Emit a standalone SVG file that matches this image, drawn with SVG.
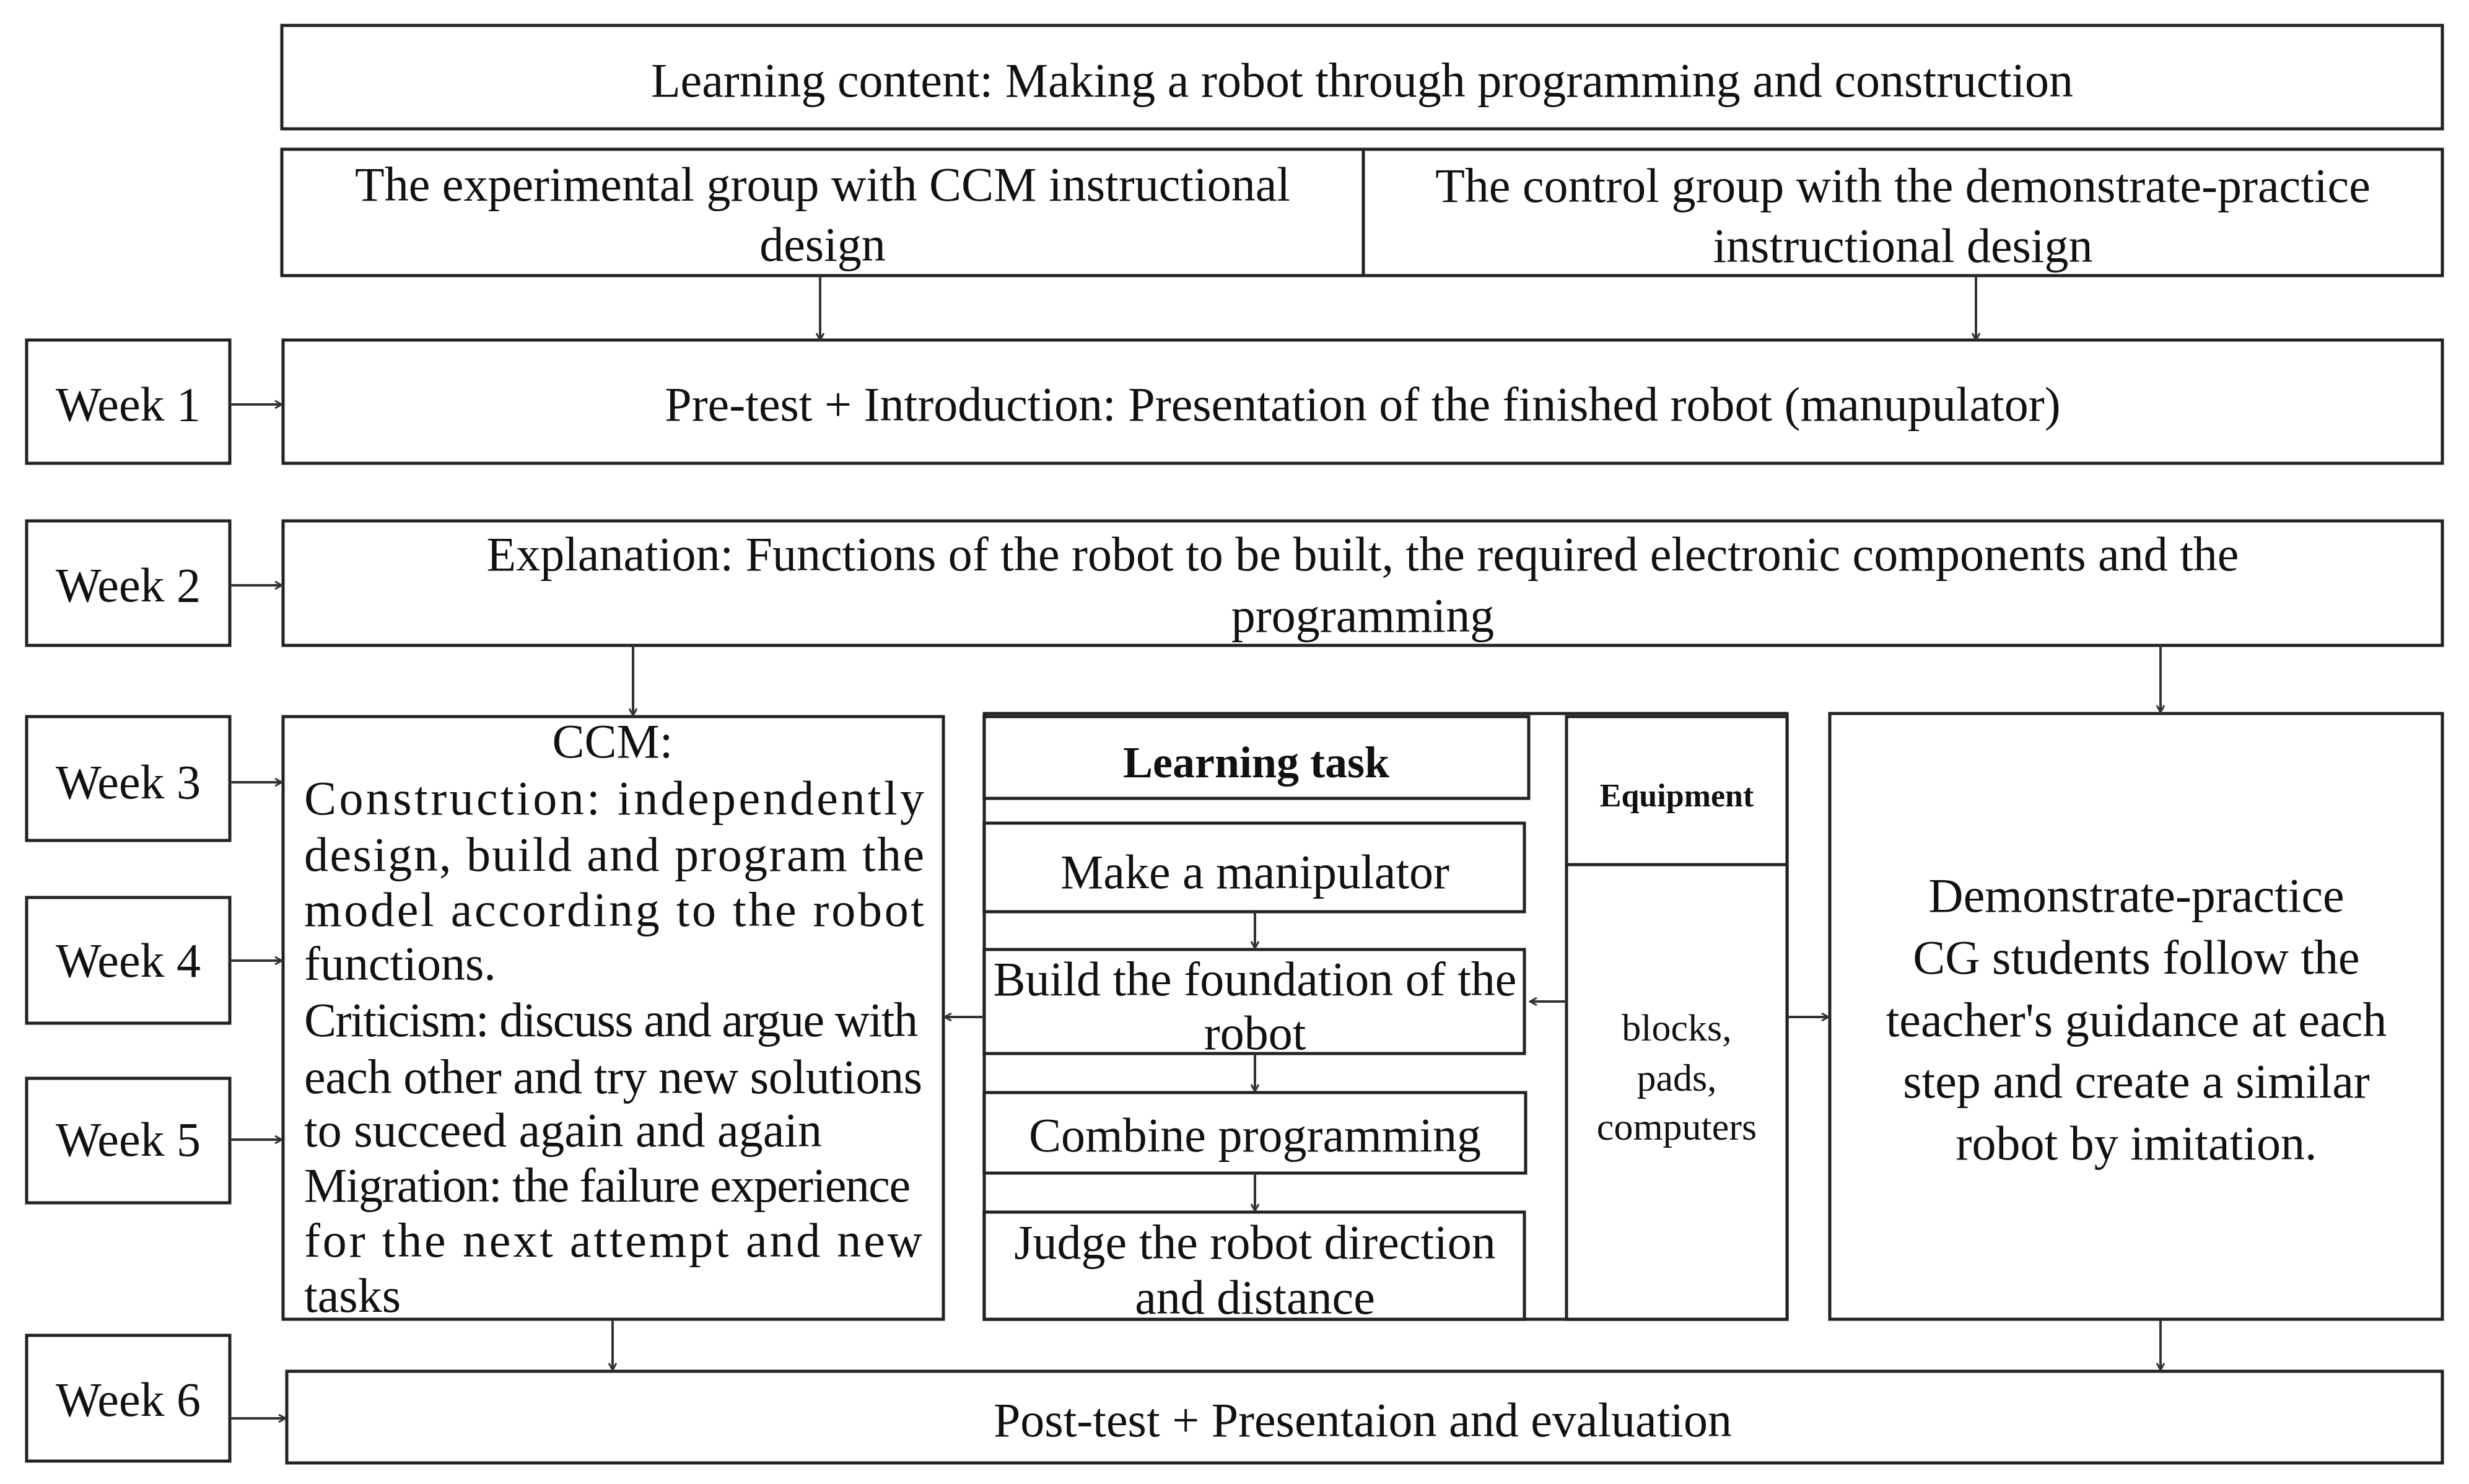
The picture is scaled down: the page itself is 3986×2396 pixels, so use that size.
<svg xmlns="http://www.w3.org/2000/svg" width="3986" height="2396" viewBox="0 0 3986 2396">
<style>
rect{fill:#fff;stroke:#222;stroke-width:5}
text{font-family:"Liberation Serif","Times New Roman",serif;font-size:78px;fill:#111}
.c{text-anchor:middle}
.b{font-weight:bold}
.ln{stroke:#333;stroke-width:4;fill:none;marker-end:url(#ah)}
</style>
<defs><marker id="ah" markerWidth="14" markerHeight="14" refX="12" refY="7" orient="auto" markerUnits="userSpaceOnUse"><path d="M1,1 L12,7 L1,13" fill="none" stroke="#333" stroke-width="3"/></marker></defs>
<rect width="3986" height="2396" style="stroke:none"/>
<g id="content"><rect x="455" y="41" width="3488" height="167"/><text class="c" x="2199" y="156">Learning content: Making a robot through programming and construction</text></g>
<g id="groups"><rect x="455" y="241" width="3488" height="204"/><line x1="2201" y1="241" x2="2201" y2="445" stroke="#222" stroke-width="5"/>
<text class="c" x="1328" y="324">The experimental group with CCM instructional</text><text class="c" x="1328" y="421">design</text>
<text class="c" x="3072" y="326">The control group with the  demonstrate-practice</text><text class="c" x="3072" y="423">instructional design</text></g>
<g id="w1"><rect x="43" y="549" width="328" height="199"/><text class="c" x="207" y="679">Week 1</text></g>
<g id="pre"><rect x="457" y="549" width="3486" height="199"/><text class="c" x="2200" y="679">Pre-test + Introduction: Presentation of the finished robot (manupulator)</text></g>
<g id="w2"><rect x="43" y="841" width="328" height="201"/><text class="c" x="207" y="971">Week 2</text></g>
<g id="expl"><rect x="457" y="841" width="3486" height="201"/><text class="c" x="2200" y="921">Explanation: Functions of the robot to be built, the required electronic components and the</text><text class="c" x="2200" y="1020">programming</text></g>
<g id="w3"><rect x="43" y="1157" width="328" height="200"/><text class="c" x="207" y="1289">Week 3</text></g>
<g id="w4"><rect x="43" y="1449" width="328" height="203"/><text class="c" x="207" y="1577">Week 4</text></g>
<g id="w5"><rect x="43" y="1741" width="328" height="201"/><text class="c" x="207" y="1866">Week 5</text></g>
<g id="w6"><rect x="43" y="2156" width="328" height="203"/><text class="c" x="207" y="2286">Week 6</text></g>
<g id="ccm"><rect x="457" y="1157" width="1066" height="973"/>
<text class="c" x="989" y="1223">CCM:</text>
<text x="491" y="1315" textLength="1001" lengthAdjust="spacing">Construction: independently</text>
<text x="491" y="1406" textLength="1001" lengthAdjust="spacing">design, build and program the</text>
<text x="491" y="1495" textLength="1001" lengthAdjust="spacing">model according to the robot</text>
<text x="491" y="1582">functions.</text>
<text x="491" y="1673" textLength="991" lengthAdjust="spacing">Criticism: discuss and argue with</text>
<text x="491" y="1765" textLength="998" lengthAdjust="spacing">each other and try new solutions</text>
<text x="491" y="1851">to succeed again and again</text>
<text x="491" y="1940" textLength="979" lengthAdjust="spacing">Migration: the failure experience</text>
<text x="491" y="2029" textLength="998" lengthAdjust="spacing">for the next attempt and new</text>
<text x="491" y="2118">tasks</text></g>
<g id="panel"><rect x="1589" y="1152" width="1296" height="978"/></g>
<g id="task"><rect x="1589" y="1157" width="879" height="132"/><text class="c b" x="2028" y="1255" style="font-size:72px">Learning task</text></g>
<g id="make"><rect x="1589" y="1329" width="872" height="143"/><text class="c" x="2026" y="1434">Make a manipulator</text></g>
<g id="build"><rect x="1589" y="1533" width="872" height="168"/><text class="c" x="2026" y="1607">Build the foundation of the</text><text class="c" x="2026" y="1694">robot</text></g>
<g id="comb"><rect x="1589" y="1764" width="874" height="130"/><text class="c" x="2026" y="1859">Combine programming</text></g>
<g id="judge"><rect x="1589" y="1957" width="872" height="173"/><text class="c" x="2026" y="2032">Judge the robot direction</text><text class="c" x="2026" y="2121">and distance</text></g>
<g id="equip"><rect x="2529" y="1157" width="356" height="973"/><line x1="2529" y1="1396" x2="2885" y2="1396" stroke="#222" stroke-width="5"/>
<text class="c b" x="2707" y="1302" style="font-size:52px">Equipment</text>
<text class="c" x="2707" y="1680" style="font-size:62px">blocks,</text><text class="c" x="2707" y="1761" style="font-size:62px">pads,</text><text class="c" x="2707" y="1840" style="font-size:62px">computers</text></g>
<g id="demo"><rect x="2954" y="1152" width="989" height="978"/>
<text class="c" x="3449" y="1472">Demonstrate-practice</text><text class="c" x="3449" y="1572">CG students follow the</text><text class="c" x="3449" y="1673">teacher's guidance at each</text><text class="c" x="3449" y="1772">step and create a similar</text><text class="c" x="3449" y="1872">robot by imitation.</text></g>
<g id="post"><rect x="463" y="2214" width="3480" height="148"/><text class="c" x="2200" y="2319">Post-test + Presentaion and evaluation</text></g>
<g id="connectors">
<line class="ln" x1="1324" y1="445" x2="1324" y2="549"/>
<line class="ln" x1="3190" y1="445" x2="3190" y2="549"/>
<line class="ln" x1="371" y1="653" x2="455" y2="653"/>
<line class="ln" x1="371" y1="945" x2="455" y2="945"/>
<line class="ln" x1="371" y1="1263" x2="455" y2="1263"/>
<line class="ln" x1="371" y1="1551" x2="455" y2="1551"/>
<line class="ln" x1="371" y1="1840" x2="455" y2="1840"/>
<line class="ln" x1="371" y1="2290" x2="461" y2="2290"/>
<line class="ln" x1="1022" y1="1042" x2="1022" y2="1155"/>
<line class="ln" x1="3488" y1="1042" x2="3488" y2="1150"/>
<line class="ln" x1="1589" y1="1642" x2="1525" y2="1642"/>
<line class="ln" x1="2529" y1="1617" x2="2470" y2="1617"/>
<line class="ln" x1="2885" y1="1642" x2="2952" y2="1642"/>
<line class="ln" x1="2026" y1="1472" x2="2026" y2="1531"/>
<line class="ln" x1="2026" y1="1701" x2="2026" y2="1762"/>
<line class="ln" x1="2026" y1="1894" x2="2026" y2="1955"/>
<line class="ln" x1="989" y1="2130" x2="989" y2="2212"/>
<line class="ln" x1="3488" y1="2130" x2="3488" y2="2212"/>
</g>
</svg>
